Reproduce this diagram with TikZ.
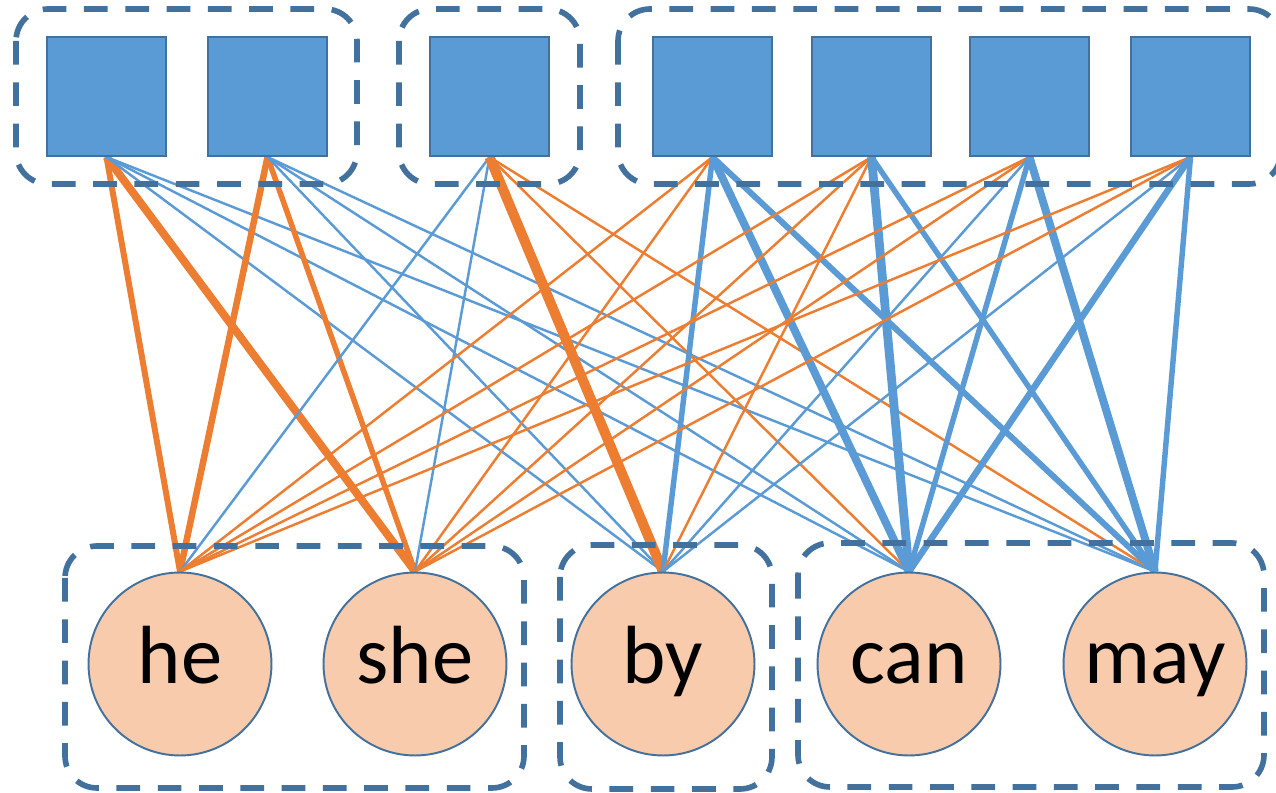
\documentclass[tikz,border=0pt]{standalone}
\usepackage{fontspec}
\setmainfont{Carlito}
\usetikzlibrary{backgrounds}
\definecolor{rim}{HTML}{41719C}
\definecolor{unitfill}{HTML}{5B9BD5}
\definecolor{wordfill}{HTML}{F8CBAD}
\definecolor{linkorange}{HTML}{ED7D31}
\definecolor{linkblue}{HTML}{5B9BD5}
\tikzset{
  unit/.style={rectangle, draw=rim, line width=1.2pt, fill=unitfill,
    minimum size=2.38cm, inner sep=0pt},
  word/.style={circle, draw=rim, line width=1.1pt, fill=wordfill,
    minimum size=3.66cm, inner sep=0pt, text height=1cm, text depth=0.2cm,
    font=\fontsize{47}{56}\selectfont},
  group/.style={draw=rim, line width=3.2pt, dash pattern=on 13.5pt off 10pt,
    rounded corners=0.64cm},
  orl/.style={draw=linkorange, line width=#1},
  bll/.style={draw=linkblue, line width=#1},
}
\begin{document}
\begin{tikzpicture}[x=0.02cm, y=-0.02cm]
\clip (0,0) rectangle (1276,793);

% hidden units
\node[unit] (s1) at (106.5,96.5) {};
\node[unit] (s2) at (267.5,96.5) {};
\node[unit] (s3) at (489.5,96.5) {};
\node[unit] (s4) at (712.5,96.5) {};
\node[unit] (s5) at (871.5,96.5) {};
\node[unit] (s6) at (1029.5,96.5) {};
\node[unit] (s7) at (1190.5,96.5) {};

% words
\node[word] (he)  at (180,664)  {he};
\node[word] (she) at (415,664)  {she};
\node[word] (by)  at (663,664)  {by};
\node[word] (can) at (909,664)  {can};
\node[word] (may) at (1155,664) {may};

% dashed groups
\draw[group] (16,9) rectangle (357,184);
\draw[group] (399,9) rectangle (580,184);
\draw[group] (618,9) rectangle (1281,184);
\draw[group] (65,546) rectangle (524,788);
\draw[group] (560,545) rectangle (772,789);
\draw[group] (798,543) rectangle (1264,787);

% connections, kept under the nodes
\begin{pgfonlayer}{background}
\fill[white] (0,0) rectangle (1276,793);
\draw[orl=3.4pt] (s1.south) -- (he.north);
\draw[orl=4.5pt] (s1.south) -- (she.north);
\draw[bll=1.4pt] (s1.south) -- (by.north);
\draw[bll=1.4pt] (s1.south) -- (can.north);
\draw[bll=1.4pt] (s1.south) -- (may.north);

\draw[orl=3.7pt] (s2.south) -- (he.north);
\draw[orl=3.1pt] (s2.south) -- (she.north);
\draw[bll=1.4pt] (s2.south) -- (by.north);
\draw[bll=1.4pt] (s2.south) -- (can.north);
\draw[bll=1.4pt] (s2.south) -- (may.north);

\draw[bll=1.4pt] (s3.south) -- (he.north);
\draw[bll=1.4pt] (s3.south) -- (she.north);
\draw[orl=5.7pt] (s3.south) -- (by.north);
\draw[orl=1.4pt] (s3.south) -- (can.north);
\draw[orl=1.4pt] (s3.south) -- (may.north);

\draw[orl=1.4pt] (s4.south) -- (he.north);
\draw[orl=1.4pt] (s4.south) -- (she.north);
\draw[bll=3.1pt] (s4.south) -- (by.north);
\draw[bll=4.5pt] (s4.south) -- (can.north);
\draw[bll=3.4pt] (s4.south) -- (may.north);

\draw[orl=1.4pt] (s5.south) -- (he.north);
\draw[orl=1.4pt] (s5.south) -- (she.north);
\draw[orl=1.4pt] (s5.south) -- (by.north);
\draw[bll=5pt]   (s5.south) -- (can.north);
\draw[bll=3.1pt] (s5.south) -- (may.north);

\draw[orl=1.4pt] (s6.south) -- (he.north);
\draw[orl=1.4pt] (s6.south) -- (she.north);
\draw[bll=1.4pt] (s6.south) -- (by.north);
\draw[bll=3.1pt] (s6.south) -- (can.north);
\draw[bll=4.5pt] (s6.south) -- (may.north);

\draw[orl=1.4pt] (s7.south) -- (he.north);
\draw[orl=1.4pt] (s7.south) -- (she.north);
\draw[bll=1.4pt] (s7.south) -- (by.north);
\draw[bll=3.7pt] (s7.south) -- (can.north);
\draw[bll=3.1pt] (s7.south) -- (may.north);
\end{pgfonlayer}
\end{tikzpicture}
\end{document}
